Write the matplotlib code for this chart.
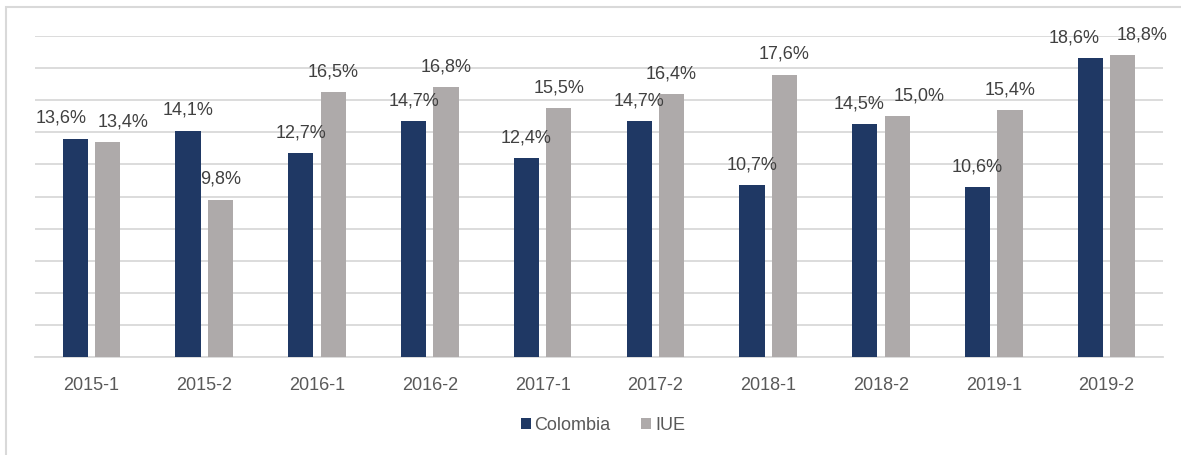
import matplotlib
matplotlib.use("Agg")
import matplotlib.pyplot as plt
from matplotlib.patches import Rectangle
import numpy as np

categories = ["2015-1", "2015-2", "2016-1", "2016-2", "2017-1",
              "2017-2", "2018-1", "2018-2", "2019-1", "2019-2"]
colombia = [13.6, 14.1, 12.7, 14.7, 12.4, 14.7, 10.7, 14.5, 10.6, 18.6]
iue = [13.4, 9.8, 16.5, 16.8, 15.5, 16.4, 17.6, 15.0, 15.4, 18.8]
# horizontal nudges (points) of the data labels, as placed in the reference
colombia_dx = [-10, 0, 0, 0, 0, 0, 0, -4, 0, -12]
iue_dx = [11, 0, 0, 0, 0, 0, 0, 16, 0, 14]

NAVY = "#1F3864"
GRAY = "#AEAAAA"
GRID = "#D9D9D9"
TEXT = "#404040"
TICK = "#595959"
FS = 13

plt.rcParams['font.family'] = ['Liberation Sans', 'DejaVu Sans']

W, H = 1181, 456
fig = plt.figure(figsize=(W / 100, H / 100), dpi=100)
ax = fig.add_axes([35 / W, 1 - 358 / H, (1163 - 35) / W, (358 - 37) / H])

x = np.arange(len(categories))
bw = 0.223
off = 0.143
b1 = ax.bar(x - off, colombia, bw, color=NAVY, label="Colombia", zorder=3)
b2 = ax.bar(x + off, iue, bw, color=GRAY, label="IUE", zorder=3)

def fmt(v):
    return f"{v:.1f}".replace(".", ",") + "%"

for bars, vals, dxs in ((b1, colombia, colombia_dx), (b2, iue, iue_dx)):
    for rect, v, dx in zip(bars, vals, dxs):
        ax.annotate(fmt(v), (rect.get_x() + rect.get_width() / 2, v),
                    xytext=(dx, 15.3), textcoords="offset points",
                    ha="center", va="center", fontsize=FS, color=TEXT,
                    annotation_clip=False, zorder=4)

ax.set_xlim(-0.5, len(categories) - 0.5)
ax.set_ylim(0, 20)
ax.set_yticks(np.arange(0, 21, 2))
ax.yaxis.grid(True, color=GRID, linewidth=1.3, zorder=0)
ax.tick_params(axis="y", left=False, labelleft=False)
ax.tick_params(axis="x", bottom=False, labelsize=FS, labelcolor=TICK, pad=10)
ax.set_xticks(x)
ax.set_xticklabels(categories)
for s in ["top", "right", "left"]:
    ax.spines[s].set_visible(False)
ax.spines["bottom"].set_color(GRID)
ax.spines["bottom"].set_linewidth(1.3)

leg = fig.legend(handles=[b1, b2], labels=["Colombia", "IUE"], loc="center",
                 bbox_to_anchor=(603 / W, 1 - 426 / H), ncol=2, frameon=False,
                 fontsize=FS, handlelength=0.55, handleheight=0.55,
                 handletextpad=0.2, columnspacing=1.7)
for t in leg.get_texts():
    t.set_color(TICK)

# outer chart border
fig.patches.append(Rectangle((5.5 / W, -0.1), 1.2, 1 - 7.5 / H + 0.1,
                             transform=fig.transFigure, fill=False,
                             edgecolor=GRID, linewidth=1.5))

fig.savefig("out.png", dpi=100)
